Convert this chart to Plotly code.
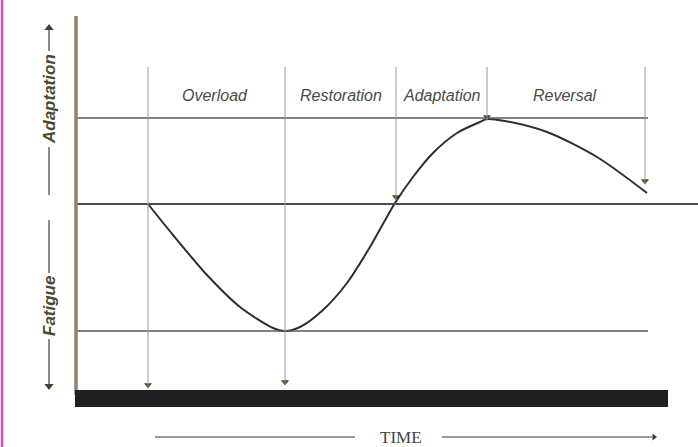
import plotly.graph_objects as go

# ---- data (time units along x, level units: 0 = baseline, + adaptation, - fatigue) ----
phase_names = ["Overload", "Restoration", "Adaptation", "Reversal"]
phase_label_x = [215, 341, 442, 565]
boundary_x = [148, 285, 396, 487, 645]          # vertical marker lines
boundary_end = [-184, -181, 4, 84, 20]           # where each marker arrow ends
curve_t = [148, 173, 207, 240, 273, 285, 300, 323, 347, 370, 395, 413, 433, 457, 480, 487, 505, 547, 597, 647]
curve_level = [0, -31, -71, -103, -124, -127, -123, -106, -79, -43, 1, 27, 51, 71, 82, 85, 83, 72, 47, 11]
adapt_level = 86       # supercompensation line
fatigue_level = -127   # fatigue line
axis_t = 76
time_end = 698
bar_end = 668

fig = go.Figure()

# horizontal reference lines
fig.add_shape(type="line", x0=axis_t, x1=time_end, y0=0, y1=0, line=dict(color="#4a4a4a", width=2))
fig.add_shape(type="line", x0=axis_t, x1=648, y0=adapt_level, y1=adapt_level, line=dict(color="#5a5a5a", width=1.5))
fig.add_shape(type="line", x0=axis_t, x1=648, y0=fatigue_level, y1=fatigue_level, line=dict(color="#5a5a5a", width=1.5))

# vertical phase lines with arrows
for bx, be in zip(boundary_x, boundary_end):
    fig.add_shape(type="line", x0=bx, x1=bx, y0=137, y1=be, line=dict(color="#9a9a90", width=1))
fig.add_trace(go.Scatter(x=boundary_x, y=[e + 3 for e in boundary_end], mode="markers",
                         marker=dict(symbol="triangle-down", size=7, color="#3e4a20"),
                         hoverinfo="skip", showlegend=False))

# the curve
fig.add_trace(go.Scatter(x=curve_t, y=curve_level, mode="lines",
                         line=dict(color="#2e2e2e", width=2, shape="spline", smoothing=0.8),
                         hoverinfo="skip", showlegend=False))

# vertical axis line and black base bar
fig.add_shape(type="line", x0=axis_t, x1=axis_t, y0=188, y1=-191, line=dict(color="#8c866a", width=3.5))
fig.add_shape(type="rect", x0=axis_t - 1, x1=bar_end, y0=-186, y1=-203, fillcolor="#231f20", line=dict(width=0))

# pink border line
fig.add_shape(type="line", x0=2, x1=2, y0=204, y1=-243, line=dict(color="#e84aa8", width=2.5))

# phase labels
for name, lx in zip(phase_names, phase_label_x):
    fig.add_annotation(x=lx, y=109, text=name, showarrow=False,
                       font=dict(family="Liberation Sans, Arial", size=16, color="#4a4a4a", style="italic"))

# left side labels with arrows
left_x = 49
fig.add_shape(type="line", x0=left_x, x1=left_x, y0=174, y1=153, line=dict(color="#5b6e5e", width=1.5))
fig.add_shape(type="line", x0=left_x, x1=left_x, y0=57, y1=9, line=dict(color="#5b6e5e", width=1.5))
fig.add_shape(type="line", x0=left_x, x1=left_x, y0=-16, y1=-69, line=dict(color="#5b6e5e", width=1.5))
fig.add_shape(type="line", x0=left_x, x1=left_x, y0=-135, y1=-180, line=dict(color="#5b6e5e", width=1.5))
fig.add_trace(go.Scatter(x=[left_x, left_x], y=[176, -182], mode="markers",
                         marker=dict(symbol=["triangle-up", "triangle-down"], size=8, color="#2e4a30"),
                         hoverinfo="skip", showlegend=False))
fig.add_annotation(x=left_x, y=105, text="<b>Adaptation</b>", textangle=-90, showarrow=False,
                   font=dict(family="Liberation Sans, Arial", size=17, color="#4a4a30", style="italic"))
fig.add_annotation(x=left_x, y=-102, text="<b>Fatigue</b>", textangle=-90, showarrow=False,
                   font=dict(family="Liberation Sans, Arial", size=17, color="#4a4a30", style="italic"))

# TIME arrow
fig.add_shape(type="line", x0=155, x1=355, y0=-233, y1=-233, line=dict(color="#7a7a7a", width=1.3))
fig.add_shape(type="line", x0=442, x1=652, y0=-233, y1=-233, line=dict(color="#7a7a7a", width=1.3))
fig.add_trace(go.Scatter(x=[654], y=[-233], mode="markers",
                         marker=dict(symbol="triangle-right", size=6, color="#3a3a3a"),
                         hoverinfo="skip", showlegend=False))
fig.add_annotation(x=401, y=-233, text="TIME", showarrow=False,
                   font=dict(family="Liberation Serif, Times New Roman", size=17, color="#444444"))

fig.update_layout(
    width=698, height=447,
    margin=dict(l=0, r=0, t=0, b=0),
    paper_bgcolor="white", plot_bgcolor="white",
    xaxis=dict(range=[0, 698], visible=False, fixedrange=True),
    yaxis=dict(range=[-243, 204], visible=False, fixedrange=True),
    showlegend=False,
)

fig.write_html("out.html", config={"displayModeBar": False},
               post_script="document.body.style.margin='0px';document.body.style.overflow='hidden';")
